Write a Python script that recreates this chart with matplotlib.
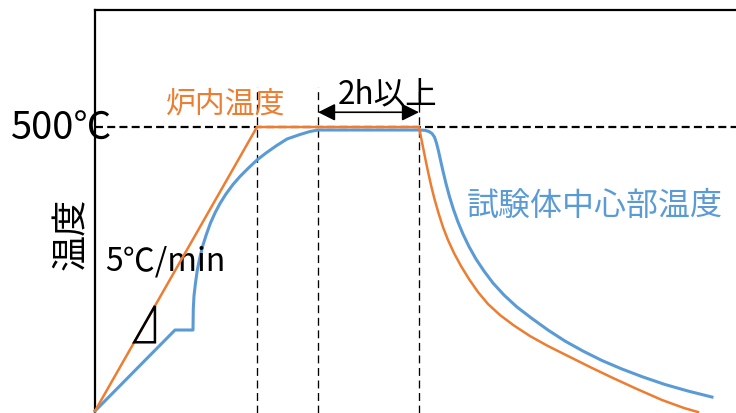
import matplotlib
matplotlib.use("Agg")
import matplotlib.pyplot as plt
from matplotlib.patches import Polygon

plt.rcParams['font.family'] = ['Noto Sans CJK JP', 'DejaVu Sans']

# Furnace temperature (time in min, temperature in deg C)
furnace_time = [0, 100, 200, 201.85, 203.70, 205.56, 207.41, 209.57, 212.04, 214.81,
                217.90, 221.60, 225.93, 230.86, 236.42, 242.59, 250.00, 258.64,
                268.52, 279.63, 291.98, 305.56, 319.75, 334.57, 350.00, 363.58, 372.22]
furnace_temp = [0, 500, 500, 473.6, 447.2, 421.7, 397.9, 373.2, 348.6, 323.9,
                301.1, 278.2, 255.3, 232.4, 209.5, 188.4, 169.0, 150.5,
                132.0, 114.4, 96.8, 77.5, 58.1, 38.7, 19.4, 5.3, -1.8]

# Specimen core temperature
core_time = [0, 49.4, 60.5, 60.68, 61.11, 62.04, 63.27, 64.81, 66.67, 68.83, 71.30,
             74.07, 77.16, 80.86, 85.19, 89.51, 94.44, 100.0, 105.56, 111.73, 118.52,
             126.54, 132.72, 137.65,
             200.62, 203.70, 206.17, 208.02, 209.57, 210.80, 212.04, 213.27, 214.81,
             216.67, 218.83, 221.30, 224.07, 227.16, 230.86, 235.19, 240.12, 245.68,
             252.47, 260.49, 269.75, 279.63, 290.12, 301.23, 312.96, 325.31, 338.27,
             351.85, 366.05, 380.86]
core_temp = [0, 142.6, 142.6, 179.6, 202.5, 225.4, 250.0, 271.1, 292.3, 311.6, 331.0,
             348.6, 365.3, 382.1, 398.8, 412.9, 427.0, 441.9, 454.2, 466.6, 478.9,
             486.8, 492.1, 494.7,
             494.7, 494.2, 492.1, 488.6, 482.4, 471.8, 457.8, 441.9, 422.5,
             400.5, 377.6, 354.8, 332.8, 311.6, 289.6, 267.6, 246.5, 225.4,
             204.2, 183.1, 162.9, 142.6, 123.2, 105.6, 88.9, 73.9, 59.9,
             46.7, 35.2, 24.6]

hold_temp = 500
ramp_end, core_reach, hold_end = 100, 137.7, 200
marker_top = 570
span_level = 526

ORANGE = '#ED7D31'
BLUE = '#5B9BD5'

fig = plt.figure(figsize=(7.36, 4.14), dpi=100)
ax = fig.add_axes([94.5 / 736, 0, (736 - 94.5) / 736, (414 - 10.5) / 414])
ax.set_xlim(-0.3, 395.7)
ax.set_ylim(-3.5, 706.9)

for side in ('right', 'bottom'):
    ax.spines[side].set_visible(False)
for side in ('left', 'top'):
    ax.spines[side].set_linewidth(1.6)
    ax.spines[side].set_color('black')
ax.set_xticks([])
ax.set_yticks([])

# hold level
ax.plot([0, 395.7], [hold_temp, hold_temp], color='black', lw=1.6,
        linestyle=(0, (3.6, 1.9)), zorder=2)

# phase markers
for t in (ramp_end, core_reach, hold_end):
    ax.plot([t, t], [-3.5, marker_top], color='black', lw=0.95,
            linestyle=(0, (6, 3.5)), zorder=2)

ax.plot(core_time, core_temp, color=BLUE, lw=2.2, zorder=3, clip_on=False,
        solid_joinstyle='round')
ax.plot(furnace_time, furnace_temp, color=ORANGE, lw=1.8, zorder=4, clip_on=False,
        solid_joinstyle='round')

# slope triangle on the ramp
tri = Polygon([(24.2, 121), (37.0, 121), (37.0, 185)], closed=True,
              fill=False, edgecolor='black', lw=1.8, zorder=5)
ax.add_patch(tri)

# hold duration arrow
ax.annotate('', xy=(core_reach, span_level), xytext=(hold_end, span_level),
            arrowprops=dict(arrowstyle='<|-|>', color='black', lw=1.2,
                            mutation_scale=26, shrinkA=0, shrinkB=0))

ax.text(180.9, 543.5, '2h以上', fontsize=22.7, ha='center', va='baseline')
ax.text(80.9, 528, '炉内温度', fontsize=21.5, color=ORANGE, ha='center', va='baseline')
ax.text(308.6, 346.8, '試験体中心部温度', fontsize=23, color=BLUE, ha='center',
        va='baseline')
ax.text(6.2, 250, '5℃/min', fontsize=23, ha='left', va='baseline')
ax.text(-20.7, 478.9, '500℃', fontsize=27.4, ha='center', va='baseline', clip_on=False)
ax.text(-14.2, 313, '温度', fontsize=26, ha='center', va='center', rotation=90,
        clip_on=False)

fig.savefig('out.png', dpi=100)
